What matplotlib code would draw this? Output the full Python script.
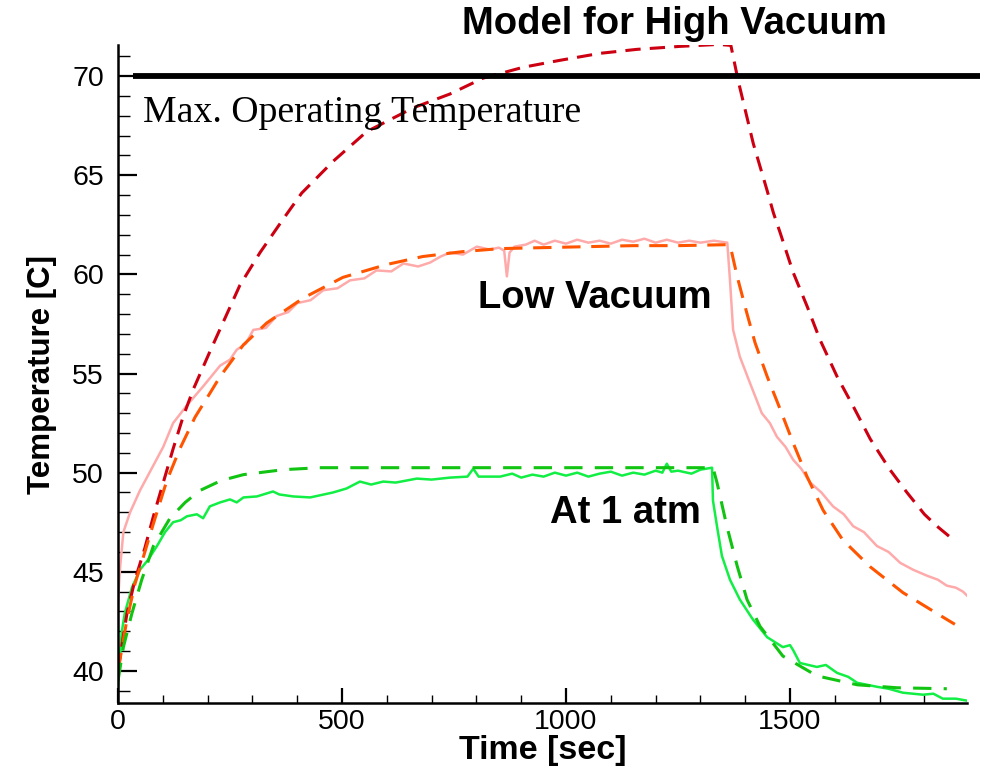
import matplotlib.pyplot as plt
from matplotlib.ticker import MultipleLocator

# valores
t_high = [0, 8, 20, 38, 60, 79, 101, 123, 145, 168, 205, 235, 272, 317, 369, 410, 480, 555,
          659, 741, 815, 905, 987, 1076, 1158, 1254, 1340, 1368, 1384, 1418, 1448, 1463, 1478,
          1507, 1538, 1567, 1605, 1641, 1679, 1723, 1761, 1800, 1828, 1860]
y_high = [40.0, 41.2, 42.9, 44.6, 46.2, 47.8, 49.5, 51.2, 52.8, 54.2, 56.1, 57.6, 59.45, 61.1,
          62.8, 64.1, 65.7, 67.2, 68.4, 69.1, 69.9, 70.45, 70.8, 71.15, 71.35, 71.5, 71.6, 71.55,
          69.8, 66.6, 64.3, 63.1, 62.1, 60.1, 58.4, 56.7, 54.85, 53.35, 51.7, 50.15, 49.0,
          47.9, 47.3, 46.7]

t_low_mod = [0, 20, 38, 60, 80, 109, 138, 172, 205, 228, 280, 332, 413, 502, 600, 680, 770,
             853, 950, 1050, 1150, 1250, 1362, 1368, 1382, 1403, 1422, 1449, 1478, 1507, 1538,
             1574, 1618, 1679, 1752, 1835, 1868]
y_low_mod = [40.0, 42.6, 44.4, 46.0, 47.5, 49.6, 51.2, 52.8, 54.0, 54.85, 56.45, 57.55, 58.8,
             59.85, 60.5, 60.9, 61.15, 61.3, 61.35, 61.4, 61.45, 61.45, 61.5, 61.3, 59.9, 58.1,
             56.55, 54.85, 53.2, 51.5, 49.8, 48.1, 46.6, 45.25, 43.95, 42.8, 42.35]

t_low_exp = [0, 5, 12, 27, 49, 75, 101, 123, 154, 190, 228, 250, 265, 285, 302, 330, 354, 380,
             400, 430, 458, 490, 518, 550, 577, 610, 637, 670, 697, 720, 741, 770, 801, 830, 850,
             862, 868, 874, 885, 910, 930, 950, 975, 1000, 1025, 1050, 1075, 1100, 1125, 1150,
             1175, 1200, 1225, 1250, 1275, 1300, 1330, 1360, 1366, 1373, 1388, 1411, 1437, 1455,
             1471, 1490, 1507, 1525, 1545, 1570, 1596, 1620, 1641, 1665, 1694, 1720, 1746,
             1775, 1806, 1830, 1850, 1870, 1886, 1895]
y_low_exp = [43.5, 45.3, 47.0, 48.0, 49.1, 50.2, 51.3, 52.5, 53.4, 54.35, 55.4, 55.7, 56.2,
             56.5, 57.2, 57.3, 57.9, 58.1, 58.55, 58.7, 59.2, 59.3, 59.7, 59.8, 60.2, 60.15,
             60.55, 60.4, 60.6, 60.9, 61.1, 61.0, 61.4, 61.25, 61.35, 61.2, 59.9, 61.1, 61.4,
             61.5, 61.7, 61.5, 61.7, 61.55, 61.75, 61.6, 61.7, 61.55, 61.75, 61.65, 61.8, 61.6,
             61.75, 61.6, 61.7, 61.6, 61.7, 61.6, 59.7, 57.2, 55.85, 54.5, 53.0, 52.5, 51.8,
             51.3, 50.65, 50.2, 49.5, 49.0, 48.3, 47.9, 47.3, 47.0, 46.3, 46.0, 45.45, 45.1,
             44.8, 44.6, 44.3, 44.2, 44.0, 43.8]

t_atm_mod = [0, 12, 31, 53, 79, 116, 150, 183, 230, 280, 369, 450, 600, 800, 1000, 1200, 1328,
             1337, 1359, 1382, 1404, 1433, 1484, 1560, 1650, 1739, 1850]
y_atm_mod = [39.5, 41.2, 42.9, 44.6, 46.3, 47.7, 48.5, 49.1, 49.6, 49.9, 50.15, 50.25, 50.25,
             50.25, 50.25, 50.25, 50.25, 49.5, 47.3, 45.3, 43.6, 42.25, 40.75, 39.75, 39.3,
             39.15, 39.1]

t_atm_exp = [0, 8, 15, 31, 49, 67, 87, 105, 123, 140, 154, 176, 190, 205, 228, 250, 265, 280,
             310, 346, 360, 391, 429, 480, 510, 540, 565, 592, 620, 667, 700, 741, 780, 793,
             805, 853, 880, 900, 925, 950, 975, 1000, 1025, 1050, 1075, 1100, 1125, 1150, 1175,
             1200, 1215, 1225, 1235, 1250, 1280, 1300, 1326, 1328, 1337, 1348, 1366, 1388,
             1417, 1449, 1484, 1500, 1507, 1522, 1560, 1580, 1605, 1630, 1650, 1694, 1720,
             1752, 1797, 1820, 1841, 1870, 1895]
y_atm_exp = [39.2, 41.9, 42.9, 44.2, 45.1, 45.6, 46.3, 47.0, 47.5, 47.6, 47.8, 47.9, 47.7,
             48.3, 48.5, 48.65, 48.5, 48.75, 48.8, 49.05, 48.9, 48.8, 48.75, 49.0, 49.2, 49.55,
             49.4, 49.55, 49.5, 49.7, 49.65, 49.75, 49.8, 50.2, 49.8, 49.8, 49.95, 49.75, 49.9,
             49.8, 50.0, 49.85, 50.0, 49.8, 49.95, 50.05, 49.85, 50.0, 49.9, 50.1, 50.0, 50.45,
             50.05, 50.1, 49.95, 50.15, 50.25, 48.6, 47.3, 45.8, 44.6, 43.6, 42.6, 41.7, 41.2,
             41.3, 41.05, 40.4, 40.2, 40.3, 39.9, 39.7, 39.4, 39.2, 39.1, 38.9, 38.8, 38.85,
             38.6, 38.6, 38.5]

plt.rcParams['font.family'] = ['Liberation Sans', 'DejaVu Sans']

fig = plt.figure(figsize=(9.85, 7.68), dpi=100)
ax = fig.add_axes([0.1198, 0.0846, 0.8619, 0.8568])

# curvas
ax.plot(t_low_exp, y_low_exp, color='#ffaaaa', lw=1.8)
ax.plot(t_atm_exp, y_atm_exp, color='#11ee44', lw=1.8)
ax.plot(t_high, y_high, color='#cc0011', lw=2.2, dashes=(5, 3))
ax.plot(t_low_mod, y_low_mod, color='#ff5500', lw=2.2, dashes=(6, 3.5))
ax.plot(t_atm_mod, y_atm_mod, color='#11c411', lw=2.2, dashes=(6, 4))

# temperatura maxima
ax.plot([33, 1924], [70, 70], color='black', lw=4.2, clip_on=False, solid_capstyle='butt')

# textos
ax.text(56, 67.68, 'Max. Operating Temperature', family='Liberation Serif', fontsize=27.2)
ax.text(1242, 72.12, 'Model for High Vacuum', fontsize=27.5, fontweight='bold', ha='center')
ax.text(1065, 58.28, 'Low Vacuum', fontsize=27.5, fontweight='bold', ha='center')
ax.text(1132, 47.47, 'At 1 atm', fontsize=27.5, fontweight='bold', ha='center')

# ejes
ax.set_xlim(0, 1895)
ax.set_ylim(38.38, 71.57)
ax.spines['top'].set_visible(False)
ax.spines['right'].set_visible(False)
ax.spines['left'].set_linewidth(1.8)
ax.spines['bottom'].set_linewidth(1.8)
ax.xaxis.set_major_locator(MultipleLocator(500))
ax.xaxis.set_minor_locator(MultipleLocator(100))
ax.yaxis.set_major_locator(MultipleLocator(5))
ax.yaxis.set_minor_locator(MultipleLocator(1))
ax.tick_params(axis='x', which='major', direction='in', length=11, width=1.6, labelsize=20.5, pad=4)
ax.tick_params(axis='x', which='minor', direction='in', length=6, width=1.0)
ax.tick_params(axis='y', which='major', direction='in', length=14, width=1.6, labelsize=20.5, pad=10)
ax.tick_params(axis='y', which='minor', direction='in', length=8.5, width=1.0)

ax.set_xlabel('Time [sec]', fontsize=24.5, fontweight='bold', labelpad=0)
ax.set_ylabel('Temperature [C]', fontsize=22.5, fontweight='bold', labelpad=11)

fig.savefig('out.png', dpi=100)
